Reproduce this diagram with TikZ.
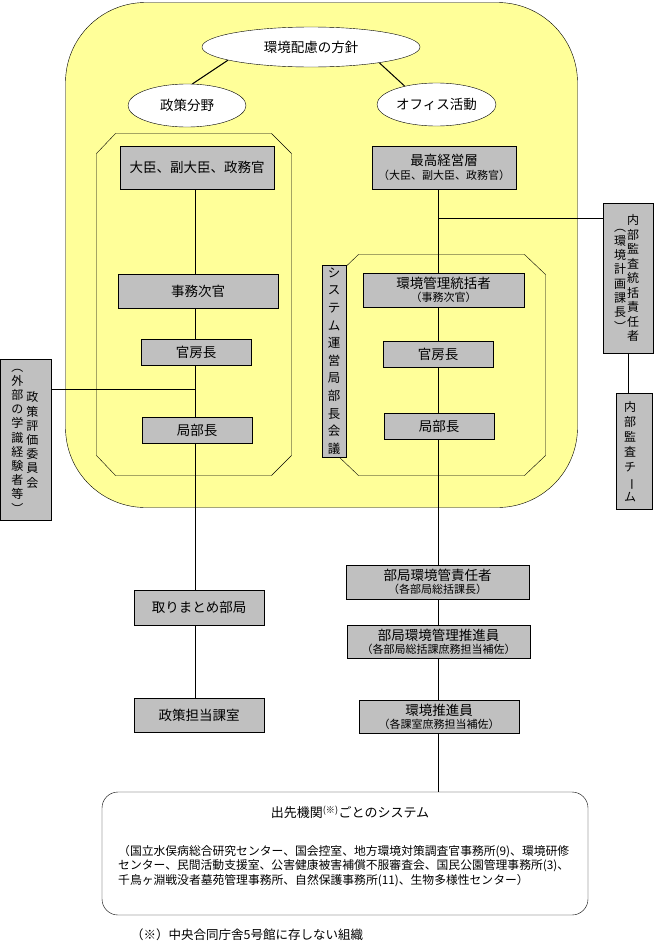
\documentclass[tikz,border=0pt]{standalone}
\usepackage{fontspec}
\setmainfont{Noto Sans CJK JP}
\usetikzlibrary{shapes.geometric,calc}
\definecolor{bgyellow}{HTML}{FFFF99}
\definecolor{boxgray}{HTML}{C0C0C0}
\newcommand{\mainsz}{\fontsize{13.5}{16}\selectfont}
\newcommand{\subsz}{\fontsize{11}{13}\selectfont}
\pgfdeclarelayer{back}
\pgfdeclarelayer{mid}
\pgfsetlayers{back,mid,main}
\begin{document}
\begin{tikzpicture}[x=1pt,y=-1pt,line width=1pt,
  gbox/.style={draw, fill=boxgray, inner sep=0pt, align=center, font=\mainsz},
  ell/.style={ellipse, draw, fill=white, inner sep=0pt, font=\mainsz},
  vtxt/.style={inner sep=0pt, align=center, font=\fontsize{12}{14.4}\selectfont},
  link/.style={draw, line width=1pt}]
\useasboundingbox (0,0) rectangle (654,945);
% frames
\begin{pgfonlayer}{back}
  \fill[bgyellow, draw=black, rounded corners=80pt] (65.5,2.5) rectangle (577.5,507.5);
  \draw (115.5,133.5) -- (271.5,133.5) -- (291.5,153.5) -- (291.5,455.5) -- (271.5,475.5) -- (115.5,475.5) -- (96.5,455.5) -- (96.5,153.5) -- cycle;
  \draw (358.5,254.5) -- (524.5,254.5) -- (545.5,274.5) -- (545.5,455.5) -- (524.5,475.5) -- (358.5,475.5) -- (337.5,455.5) -- (337.5,274.5) -- cycle;
\end{pgfonlayer}
% ellipses
\node[ell, minimum width=218pt, minimum height=40pt] (e0) at (311,47) {環境配慮の方針};
\node[ell, minimum width=118pt, minimum height=43pt] (e1) at (187,105.5) {政策分野};
\node[ell, minimum width=119pt, minimum height=43pt] (e2) at (436.5,104.5) {オフィス活動};
% left column
\node[gbox, minimum width=154pt, minimum height=43pt] (a1) at (197,167.5) {大臣、副大臣、政務官};
\node[gbox, minimum width=160pt, minimum height=34pt] (a2) at (198,291) {事務次官};
\node[gbox, minimum width=110pt, minimum height=26pt] (a3) at (196,352) {官房長};
\node[gbox, minimum width=110pt, minimum height=26pt] (a4) at (197,430) {局部長};
\node[gbox, minimum width=130pt, minimum height=35pt] (a5) at (199,607.5) {取りまとめ部局};
\node[gbox, minimum width=130pt, minimum height=34pt] (a6) at (199,715) {政策担当課室};
% right column
\node[gbox, minimum width=144pt, minimum height=43pt] (b1) at (444,167.5) {最高経営層\\[-2pt]{\subsz （大臣、副大臣、政務官）}};
\node[gbox, minimum width=161pt, minimum height=34pt] (b2) at (443.5,290) {環境管理統括者\\[-3pt]{\subsz （事務次官）}};
\node[gbox, minimum width=110pt, minimum height=26pt] (b3) at (438,354) {官房長};
\node[gbox, minimum width=110pt, minimum height=26pt] (b4) at (439,426) {局部長};
\node[gbox, minimum width=183pt, minimum height=34pt] (b5) at (437.5,582) {部局環境管責任者\\[-3pt]{\subsz （各部局総括課長）}};
\node[gbox, minimum width=183pt, minimum height=33pt] (b6) at (438.5,641.5) {部局環境管理推進員\\[-3pt]{\subsz （各部局総括課庶務担当補佐）}};
\node[gbox, minimum width=160pt, minimum height=33pt] (b7) at (439,716.5) {環境推進員\\[-3pt]{\subsz （各課室庶務担当補佐）}};
% vertical boxes
\node[gbox, minimum width=24pt, minimum height=192pt] (sys) at (334,361) {};
\node[vtxt, font=\fontsize{12.5}{17.6}\selectfont] (sys-t) at (334,361) {シ\\ス\\テ\\ム\\運\\営\\局\\部\\長\\会\\議};
\node[gbox, minimum width=50pt, minimum height=150pt] (ia) at (628,278) {};
\node[vtxt, font=\fontsize{12}{14.5}\selectfont] (ia-r) at (633,278) {内\\部\\監\\査\\統\\括\\責\\任\\者};
\node[vtxt, font=\fontsize{12}{14.3}\selectfont] (ia-l) at (620,280) {︵\\環\\境\\計\\画\\課\\長\\︶};
\node[gbox, minimum width=36pt, minimum height=116pt] (it) at (634,451) {};
\node[vtxt, font=\fontsize{12}{15}\selectfont] (it-t) at (630,452) {内\\部\\監\\査\\チ\\\rotatebox[origin=c]{-90}{ー}\\ム};
\node[gbox, minimum width=51pt, minimum height=161pt] (pe) at (25.5,439.5) {};
\node[vtxt, font=\fontsize{12}{14.2}\selectfont] (pe-l) at (17.5,441) {︵\\外\\部\\の\\学\\識\\経\\験\\者\\等\\︶};
\node[vtxt, font=\fontsize{12}{14.2}\selectfont] (pe-r) at (32.5,440) {政\\策\\評\\価\\委\\員\\会};
% bottom box
\node[draw, fill=white, rounded corners=16pt, minimum width=486pt, minimum height=123pt, inner sep=0pt] (fin) at (345,853.5) {};
\node[inner sep=0pt, font=\fontsize{13}{15}\selectfont] (fin-t) at (350,812) {出先機関\textsuperscript{(※)}ごとのシステム};
\node[inner sep=0pt, anchor=west, align=left, font=\fontsize{11.8}{14.5}\selectfont] (fin-p) at (118,866) {（国立水俣病総合研究センター、国会控室、地方環境対策調査官事務所(9)、環境研修\\センター、民間活動支援室、公害健康被害補償不服審査会、国民公園管理事務所(3)、\\千鳥ヶ淵戦没者墓苑管理事務所、自然保護事務所(11)、生物多様性センター）};
\node[inner sep=0pt, anchor=west, font=\fontsize{12.5}{14}\selectfont] (fn) at (131,935) {（※）中央合同庁舎5号館に存しない組織};
% connectors
\coordinate (L) at (195.5,0);
\coordinate (R) at (438.5,0);
\coordinate (j1) at (195.5,389.5);
\coordinate (j2) at (438.5,218.5);
\begin{pgfonlayer}{mid}
  \draw[link] (e0.189) -- (e1.76);
  \draw[link] (e0.347) -- (e2.150);
  \draw[link] (L |- a1.south) -- (L |- a6.north);
  \draw[link] (R |- b1.south) -- (R |- fin.north);
  \draw[link] (pe.east |- j1) -- (j1);
  \draw[link] (j2) -- (ia.west |- j2);
  \draw[link] (ia.south) -- (ia.south |- it.north);
\end{pgfonlayer}
\end{tikzpicture}
\end{document}
